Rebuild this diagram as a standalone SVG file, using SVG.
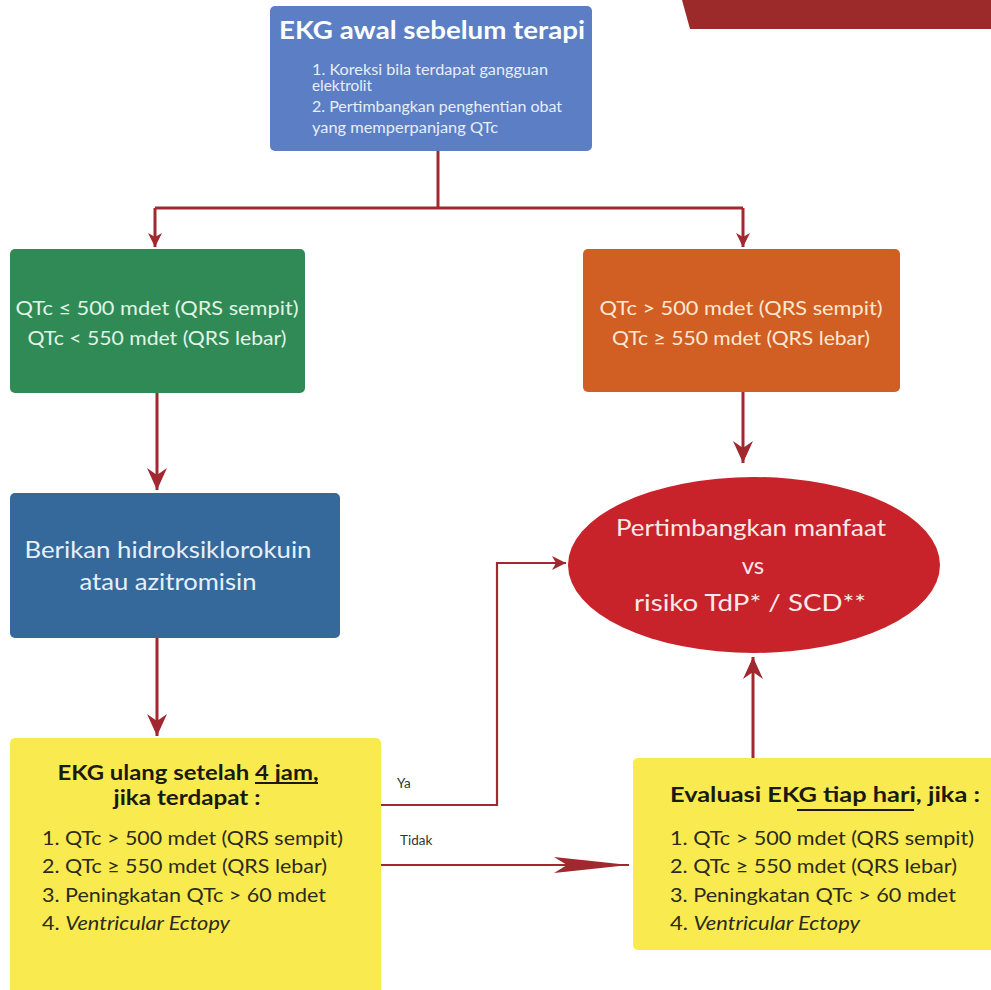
<svg xmlns="http://www.w3.org/2000/svg" width="991" height="990" viewBox="0 0 991 990">
<style>
.t{font-family:Lato,"Open Sans","DejaVu Sans",sans-serif}
.conn{fill:none;stroke:#a1282e;stroke-width:3}
.thin{stroke-width:2.2}
.c{text-anchor:middle}
.sub{font-size:14.5px;fill:#e8eef9}
.cond{font-size:20px}
.big{font-size:24px}
.item{font-size:19px;fill:#2b2a1c}
.hd{font-size:20px;font-weight:bold;fill:#1a1a12}
</style>
<defs>
<marker id="ah" viewBox="-24 -12 26 24" refX="0" refY="0" markerWidth="26" markerHeight="24" markerUnits="userSpaceOnUse" orient="auto">
<path d="M0,0 L-22,-10 L-15,0 L-22,10 Z" fill="#a1282e"/>
</marker>
<marker id="ahs" viewBox="-16 -9 18 18" refX="0" refY="0" markerWidth="18" markerHeight="18" markerUnits="userSpaceOnUse" orient="auto">
<path d="M0,0 L-14,-7 L-10,0 L-14,7 Z" fill="#a1282e"/>
</marker>
<marker id="ahl" viewBox="-78 -10 80 20" refX="0" refY="0" markerWidth="80" markerHeight="20" markerUnits="userSpaceOnUse" orient="auto">
<path d="M0,0 L-75,-8 L-62,0 L-75,8 Z" fill="#a1282e"/>
</marker>
</defs>
<rect width="991" height="990" fill="#ffffff"/>
<polygon id="banner" points="682,0 991,0 991,29 690,29" fill="#9d2a2b"/>

<g id="connectors">
<polyline class="conn" points="438,151 438,208"/>
<polyline class="conn" points="155,208 743,208"/>
<line class="conn" x1="155" y1="208" x2="155" y2="247" marker-end="url(#ahs)"/>
<line class="conn" x1="743" y1="208" x2="743" y2="247" marker-end="url(#ahs)"/>
<line class="conn" x1="157" y1="393" x2="157" y2="490" marker-end="url(#ah)"/>
<line class="conn" x1="743" y1="392" x2="743" y2="463" marker-end="url(#ah)"/>
<line class="conn" x1="157" y1="638" x2="157" y2="736" marker-end="url(#ah)"/>
<polyline class="conn thin" points="381,805 497,805 497,563 566,563" marker-end="url(#ahs)"/>
<line class="conn thin" x1="381" y1="865" x2="629" y2="865" marker-end="url(#ahl)"/>
<line class="conn" x1="753" y1="758" x2="753" y2="657" marker-end="url(#ah)"/>
<text class="t" x="397" y="788" font-size="13.5" fill="#333">Ya</text>
<text class="t" x="400" y="845" font-size="13.5" fill="#333">Tidak</text>
</g>

<g id="n_ekg_awal">
<rect x="270" y="6" width="322" height="145" rx="5" fill="#5b7ec4"/>
<text class="t c" x="432" y="39" font-size="24" font-weight="bold" fill="#ffffff" textLength="306" lengthAdjust="spacingAndGlyphs">EKG awal sebelum terapi</text>
<text class="t sub" x="312" y="75" textLength="236" lengthAdjust="spacingAndGlyphs">1. Koreksi bila terdapat gangguan</text>
<text class="t sub" x="312" y="91" textLength="60" lengthAdjust="spacingAndGlyphs">elektrolit</text>
<text class="t sub" x="312" y="112" textLength="250" lengthAdjust="spacingAndGlyphs">2. Pertimbangkan penghentian obat</text>
<text class="t sub" x="312" y="133" textLength="186" lengthAdjust="spacingAndGlyphs">yang memperpanjang QTc</text>
</g>

<g id="n_qtc_normal">
<rect x="10" y="249" width="295" height="144" rx="5" fill="#2f8a55"/>
<text class="t c cond" x="157" y="315" fill="#e2f4e6" textLength="283" lengthAdjust="spacingAndGlyphs">QTc ≤ 500 mdet (QRS sempit)</text>
<text class="t c cond" x="157" y="345" fill="#e2f4e6" textLength="259" lengthAdjust="spacingAndGlyphs">QTc &lt; 550 mdet (QRS lebar)</text>
</g>

<g id="n_qtc_tinggi">
<rect x="583" y="249" width="317" height="143" rx="5" fill="#d15e22"/>
<text class="t c cond" x="741" y="315" fill="#fde8d4" textLength="283" lengthAdjust="spacingAndGlyphs">QTc &gt; 500 mdet (QRS sempit)</text>
<text class="t c cond" x="741" y="345" fill="#fde8d4" textLength="258" lengthAdjust="spacingAndGlyphs">QTc ≥ 550 mdet (QRS lebar)</text>
</g>

<g id="n_berikan">
<rect x="10" y="493" width="330" height="145" rx="5" fill="#35699c"/>
<text class="t c big" x="168" y="558" fill="#e6f0fa" textLength="287" lengthAdjust="spacingAndGlyphs">Berikan hidroksiklorokuin</text>
<text class="t c big" x="168" y="590" fill="#e6f0fa" textLength="177" lengthAdjust="spacingAndGlyphs">atau azitromisin</text>
</g>

<g id="n_pertimbangkan">
<ellipse cx="754" cy="565" rx="186" ry="88" fill="#c8222b"/>
<text class="t c big" x="751" y="536" fill="#fbe9e9" textLength="270" lengthAdjust="spacingAndGlyphs">Pertimbangkan manfaat</text>
<text class="t c big" x="753" y="574" fill="#fbe9e9">vs</text>
<text class="t c big" x="750" y="611" fill="#fbe9e9" textLength="232" lengthAdjust="spacingAndGlyphs">risiko TdP* / SCD**</text>
</g>

<g id="n_ekg_ulang">
<rect x="10" y="738" width="371" height="270" rx="5" fill="#f9eb4f"/>
<text class="t c hd" x="188" y="780" textLength="261" lengthAdjust="spacingAndGlyphs">EKG ulang setelah 4 jam,</text>
<line x1="255" y1="783" x2="318" y2="783" stroke="#1a1a12" stroke-width="2"/>
<text class="t c hd" x="187" y="805" textLength="147" lengthAdjust="spacingAndGlyphs">jika terdapat :</text>
<text class="t item" x="42" y="845" textLength="301" lengthAdjust="spacingAndGlyphs">1. QTc &gt; 500 mdet (QRS sempit)</text>
<text class="t item" x="42" y="873" textLength="285" lengthAdjust="spacingAndGlyphs">2. QTc ≥ 550 mdet (QRS lebar)</text>
<text class="t item" x="42" y="902" textLength="284" lengthAdjust="spacingAndGlyphs">3. Peningkatan QTc &gt; 60 mdet</text>
<text class="t item" x="42" y="930" textLength="188" lengthAdjust="spacingAndGlyphs">4. <tspan font-style="italic">Ventricular Ectopy</tspan></text>
</g>

<g id="n_evaluasi">
<rect x="633" y="758" width="370" height="192" rx="5" fill="#f9eb4f"/>
<text class="t hd" x="670" y="802" textLength="310" lengthAdjust="spacingAndGlyphs">Evaluasi EKG tiap hari, jika :</text>
<line x1="797" y1="810" x2="914" y2="810" stroke="#1a1a12" stroke-width="2"/>
<text class="t item" x="670" y="845" textLength="304" lengthAdjust="spacingAndGlyphs">1. QTc &gt; 500 mdet (QRS sempit)</text>
<text class="t item" x="670" y="873" textLength="287" lengthAdjust="spacingAndGlyphs">2. QTc ≥ 550 mdet (QRS lebar)</text>
<text class="t item" x="670" y="902" textLength="286" lengthAdjust="spacingAndGlyphs">3. Peningkatan QTc &gt; 60 mdet</text>
<text class="t item" x="670" y="930" textLength="190" lengthAdjust="spacingAndGlyphs">4. <tspan font-style="italic">Ventricular Ectopy</tspan></text>
</g>
</svg>
